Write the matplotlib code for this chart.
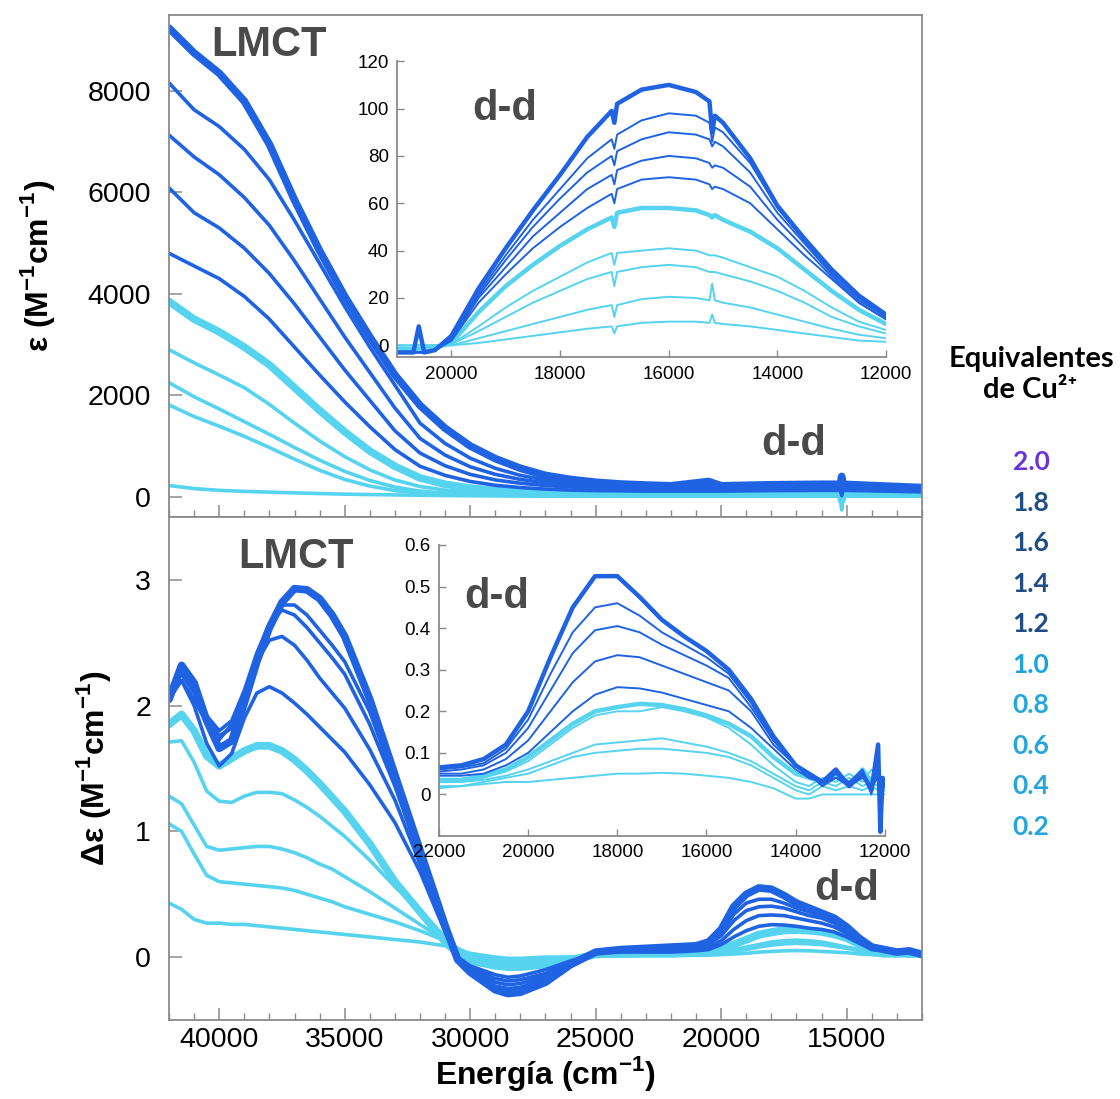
import numpy as np
import matplotlib.pyplot as plt
from matplotlib.ticker import MultipleLocator, FuncFormatter

plt.rcParams['font.family'] = ['Liberation Sans', 'DejaVu Sans']
plt.rcParams['mathtext.fontset'] = 'custom'
plt.rcParams['mathtext.rm'] = 'Liberation Sans'
plt.rcParams['mathtext.bf'] = 'Liberation Sans:bold'

# equivalents of Cu2+, same order as the curve lists below
equivalents = ['2.0', '1.8', '1.6', '1.4', '1.2', '1.0', '0.8', '0.6', '0.4', '0.2']

# --- absorption (epsilon), main panel ---
energy_abs = [42000, 41000, 40000, 39000, 38000, 37000, 36000, 35000, 34000, 33000,
              32000, 31000, 30000, 29000, 28000, 27000, 26000, 25000, 24000, 23000,
              22000, 20500, 20000, 18000, 16000, 15250, 15200, 15150, 14000, 12000]
eps_curves = [
    [9240, 8750, 8350, 7800, 6950, 5850, 4850, 3950, 3150, 2400, 1800, 1350, 1000, 750, 560, 420, 340, 285, 250, 230, 215, 300, 215, 235, 245, 245, 400, 245, 220, 180],
    [8160, 7630, 7300, 6850, 6250, 5450, 4600, 3750, 2950, 2200, 1450, 1050, 760, 560, 420, 330, 275, 240, 220, 210, 200, 200, 200, 215, 225, 225, 380, 225, 205, 165],
    [7130, 6700, 6350, 5900, 5350, 4650, 3900, 3150, 2450, 1750, 1150, 820, 590, 440, 340, 275, 235, 210, 195, 185, 180, 180, 180, 190, 200, 200, 340, 200, 180, 145],
    [6090, 5600, 5300, 4900, 4400, 3800, 3150, 2500, 1900, 1300, 860, 610, 440, 330, 265, 220, 190, 175, 165, 160, 155, 155, 155, 165, 170, 170, 60, 170, 155, 125],
    [4800, 4550, 4300, 3950, 3500, 2950, 2400, 1870, 1380, 930, 600, 420, 300, 225, 180, 150, 130, 120, 115, 110, 110, 110, 110, 120, 125, 125, 20, 125, 115, 95],
    [3850, 3500, 3250, 2950, 2600, 2150, 1700, 1280, 900, 600, 370, 245, 170, 120, 95, 80, 70, 65, 60, 60, 60, 60, 60, 65, 70, 70, -80, 70, 62, 50],
    [2900, 2640, 2400, 2150, 1820, 1450, 1100, 790, 530, 330, 200, 130, 90, 70, 60, 52, 48, 45, 42, 40, 40, 40, 40, 44, 48, 48, -150, 48, 42, 35],
    [2250, 1970, 1730, 1480, 1230, 970, 720, 500, 320, 190, 110, 70, 50, 40, 34, 30, 28, 26, 25, 25, 25, 25, 25, 28, 30, 30, -200, 30, 27, 22],
    [1810, 1580, 1390, 1190, 970, 740, 520, 340, 210, 120, 70, 48, 36, 30, 26, 23, 21, 20, 20, 20, 20, 20, 20, 22, 24, 24, -260, 24, 20, 15],
    [220, 160, 125, 105, 90, 75, 62, 50, 42, 35, 28, 22, 18, 15, 12, 10, 10, 10, 10, 10, 10, 10, 10, 10, 10, 10, -120, 10, 10, 10],
]

# --- absorption, d-d inset ---
energy_abs_dd = [21000, 20700, 20600, 20500, 20300, 20000, 19500, 19000, 18500, 18000,
                 17500, 17050, 17000, 16950, 16500, 16000, 15500, 15250, 15200, 15150,
                 15000, 14500, 14000, 13500, 13000, 12500, 12000]
eps_dd_curves = [
    [-3, -3, 8, -3, -2, 4, 24, 41, 57, 72, 88, 99, 94, 102, 108, 110, 107, 103, 90, 97, 94, 79, 59, 45, 32, 21, 13],
    [-3, -3, -3, -3, -2, 3, 22, 38, 53, 66, 79, 87, 83, 89, 95, 98, 97, 94, 86, 92, 90, 77, 58, 44, 31, 20, 12],
    [-3, -3, -3, -3, -2, 3, 21, 36, 50, 62, 73, 80, 76, 82, 87, 90, 89, 87, 84, 86, 84, 73, 56, 43, 30, 19, 12],
    [-3, -3, -3, -3, -2, 2, 20, 33, 46, 56, 66, 72, 68, 74, 78, 80, 79, 77, 75, 76, 75, 67, 53, 41, 29, 18, 11],
    [-3, -3, -3, -3, -2, 2, 18, 30, 41, 50, 58, 64, 60, 66, 70, 71, 70, 68, 66, 67, 66, 60, 49, 38, 28, 18, 11],
    [-2, -2, -2, -2, -1, 1, 14, 25, 34, 42, 49, 54, 50, 56, 58, 58, 57, 55, 54, 55, 53, 48, 41, 32, 23, 15, 9],
    [-1, -1, -1, -1, 0, 0.5, 8, 16, 23, 29, 35, 39, 34, 39, 40, 41, 40, 38, 38, 38, 37, 33, 29, 23, 16, 10, 6.5],
    [-1, -1, -1, -1, 0, 0.5, 6, 12, 18, 23, 28, 31, 25, 31, 33, 34, 33, 31, 31, 31, 30, 27, 23, 18, 12, 8, 5],
    [0, 0, 0, 0, 0, 0, 3, 6, 9, 12, 15, 17, 12, 17, 19.5, 20.5, 20, 19, 26, 19, 18, 16, 13, 10, 7, 4.5, 3],
    [0, 0, 0, 0, 0, 0, 1, 2.5, 4, 5.5, 7, 8, 5, 8, 9.5, 10, 10, 9.5, 13, 9.5, 9, 8, 6.5, 5, 3.5, 2, 1.5],
]

# --- circular dichroism (delta epsilon), main panel ---
energy_cd = [42000, 41500, 41000, 40500, 40000, 39500, 39000, 38500, 38000, 37500,
             37000, 36500, 36000, 35500, 35000, 34000, 33000, 32000, 31000, 30500,
             30000, 29000, 28500, 28000, 27000, 26000, 25000, 24000, 23000, 22000,
             21000, 20500, 20000, 19500, 19000, 18500, 18000, 17500, 17000, 16500,
             16000, 15500, 15000, 14500, 14000, 13500, 13000, 12500, 12000]
deps_curves = [
    [2.05, 2.32, 2.18, 1.88, 1.66, 1.72, 2.02, 2.35, 2.62, 2.82, 2.93, 2.92, 2.85, 2.72, 2.55,
     2.05, 1.45, 0.85, 0.25, -0.02, -0.12, -0.26, -0.29, -0.28, -0.2, -0.06, 0.04, 0.06, 0.07, 0.08, 0.09,
     0.12, 0.22, 0.4, 0.5, 0.55, 0.54, 0.49, 0.43, 0.39, 0.35, 0.31, 0.24, 0.15, 0.08, 0.06, 0.04, 0.05, 0.02],
    [2.1, 2.28, 2.12, 1.9, 1.76, 1.82, 2.08, 2.4, 2.65, 2.8, 2.8, 2.72, 2.6, 2.48, 2.35,
     1.95, 1.4, 0.82, 0.23, -0.02, -0.11, -0.23, -0.25, -0.24, -0.17, -0.05, 0.04, 0.06, 0.07, 0.07, 0.08,
     0.11, 0.19, 0.34, 0.43, 0.46, 0.46, 0.43, 0.39, 0.36, 0.33, 0.29, 0.22, 0.14, 0.08, 0.05, 0.04, 0.04, 0.02],
    [2.12, 2.25, 2.1, 1.92, 1.8, 1.88, 2.12, 2.42, 2.65, 2.76, 2.72, 2.62, 2.5, 2.38, 2.25,
     1.85, 1.36, 0.79, 0.22, -0.02, -0.1, -0.2, -0.22, -0.21, -0.15, -0.04, 0.04, 0.05, 0.06, 0.06, 0.07,
     0.1, 0.17, 0.29, 0.37, 0.4, 0.405, 0.39, 0.36, 0.33, 0.31, 0.27, 0.21, 0.13, 0.07, 0.05, 0.04, 0.04, 0.02],
    [2.05, 2.2, 2.05, 1.86, 1.73, 1.85, 2.1, 2.35, 2.52, 2.55, 2.48, 2.36, 2.22, 2.1, 1.98,
     1.65, 1.25, 0.74, 0.21, -0.01, -0.09, -0.17, -0.19, -0.18, -0.13, -0.04, 0.03, 0.05, 0.05, 0.05, 0.06,
     0.08, 0.13, 0.22, 0.29, 0.33, 0.335, 0.33, 0.31, 0.29, 0.27, 0.24, 0.19, 0.12, 0.07, 0.05, 0.04, 0.04, 0.02],
    [2.08, 2.2, 2.0, 1.7, 1.52, 1.62, 1.9, 2.1, 2.15, 2.1, 2.02, 1.93, 1.83, 1.73, 1.63,
     1.37, 1.07, 0.68, 0.2, 0.0, -0.07, -0.14, -0.16, -0.15, -0.1, -0.03, 0.03, 0.04, 0.04, 0.04, 0.05,
     0.06, 0.1, 0.16, 0.21, 0.245, 0.258, 0.255, 0.245, 0.23, 0.22, 0.2, 0.16, 0.11, 0.06, 0.05, 0.04, 0.03, 0.02],
    [1.85, 1.93, 1.8, 1.6, 1.52, 1.58, 1.64, 1.68, 1.68, 1.64, 1.57, 1.48, 1.38, 1.27, 1.16,
     0.9, 0.6, 0.36, 0.12, 0.03, -0.03, -0.07, -0.08, -0.08, -0.06, -0.02, 0.02, 0.03, 0.03, 0.03, 0.04,
     0.05, 0.07, 0.1, 0.14, 0.18, 0.2, 0.215, 0.215, 0.21, 0.2, 0.18, 0.15, 0.1, 0.06, 0.05, 0.04, 0.03, 0.03],
    [1.71, 1.72, 1.55, 1.32, 1.24, 1.23, 1.28, 1.31, 1.31, 1.3, 1.25, 1.19, 1.12, 1.04, 0.96,
     0.77, 0.56, 0.37, 0.16, 0.06, -0.01, -0.05, -0.06, -0.06, -0.05, -0.02, 0.01, 0.02, 0.02, 0.03, 0.03,
     0.04, 0.06, 0.09, 0.12, 0.16, 0.18, 0.195, 0.2, 0.2, 0.19, 0.17, 0.14, 0.1, 0.06, 0.04, 0.03, 0.03, 0.03],
    [1.28, 1.22, 1.05, 0.88, 0.85, 0.86, 0.87, 0.88, 0.88, 0.86, 0.83, 0.79, 0.74, 0.7, 0.64,
     0.52, 0.39, 0.26, 0.13, 0.06, 0.0, -0.03, -0.04, -0.04, -0.03, -0.01, 0.01, 0.015, 0.02, 0.02, 0.025,
     0.03, 0.04, 0.06, 0.08, 0.1, 0.12, 0.13, 0.135, 0.13, 0.12, 0.1, 0.08, 0.06, 0.04, 0.03, 0.02, 0.02, 0.02],
    [1.06, 1.0, 0.82, 0.65, 0.6, 0.59, 0.58, 0.57, 0.56, 0.55, 0.53, 0.5, 0.47, 0.44, 0.4,
     0.34, 0.28, 0.21, 0.13, 0.07, 0.02, -0.02, -0.02, -0.02, -0.01, 0.0, 0.01, 0.01, 0.015, 0.02, 0.02,
     0.025, 0.03, 0.05, 0.06, 0.08, 0.095, 0.105, 0.11, 0.105, 0.1, 0.085, 0.07, 0.05, 0.03, 0.02, 0.02, 0.01, 0.01],
    [0.43, 0.38, 0.3, 0.27, 0.27, 0.26, 0.26, 0.25, 0.24, 0.23, 0.22, 0.21, 0.2, 0.19, 0.18,
     0.16, 0.14, 0.12, 0.09, 0.06, 0.03, 0.0, -0.01, -0.01, 0.0, 0.0, 0.01, 0.01, 0.01, 0.01, 0.015,
     0.015, 0.02, 0.025, 0.03, 0.04, 0.045, 0.05, 0.052, 0.05, 0.045, 0.04, 0.035, 0.025, 0.02, 0.01, 0.01, 0.01, 0.01],
]

# --- circular dichroism, d-d inset ---
energy_cd_dd = [22000, 21500, 21000, 20500, 20000, 19500, 19000, 18500, 18000, 17500,
                17000, 16500, 16000, 15500, 15000, 14500, 14000, 13700, 13400, 13100,
                12800, 12500, 12300, 12150, 12100, 12050, 12000]
deps_dd_curves = [
    [0.065, 0.07, 0.085, 0.12, 0.2, 0.33, 0.45, 0.525, 0.525, 0.475, 0.42, 0.38, 0.345, 0.3, 0.23, 0.14, 0.07, 0.05, 0.03, 0.06, 0.02, 0.05, 0.01, 0.12, -0.09, 0.04, 0.02],
    [0.06, 0.065, 0.075, 0.11, 0.18, 0.29, 0.39, 0.45, 0.46, 0.43, 0.39, 0.36, 0.33, 0.29, 0.22, 0.13, 0.07, 0.05, 0.02, 0.05, 0.03, 0.06, 0.0, 0.08, -0.04, 0.03, 0.02],
    [0.055, 0.06, 0.07, 0.1, 0.16, 0.25, 0.34, 0.395, 0.405, 0.39, 0.36, 0.335, 0.31, 0.28, 0.21, 0.13, 0.07, 0.04, 0.03, 0.05, 0.02, 0.05, 0.02, 0.06, -0.02, 0.03, 0.02],
    [0.05, 0.05, 0.06, 0.085, 0.13, 0.2, 0.27, 0.32, 0.335, 0.33, 0.31, 0.29, 0.27, 0.25, 0.2, 0.12, 0.07, 0.05, 0.02, 0.04, 0.03, 0.05, 0.01, 0.05, 0.0, 0.03, 0.02],
    [0.045, 0.045, 0.05, 0.07, 0.1, 0.15, 0.2, 0.24, 0.258, 0.255, 0.245, 0.23, 0.215, 0.2, 0.16, 0.11, 0.06, 0.04, 0.03, 0.04, 0.02, 0.04, 0.02, 0.04, 0.01, 0.03, 0.02],
    [0.035, 0.035, 0.045, 0.06, 0.09, 0.13, 0.17, 0.2, 0.21, 0.218, 0.215, 0.205, 0.19, 0.17, 0.14, 0.09, 0.05, 0.04, 0.03, 0.05, 0.02, 0.06, 0.03, 0.05, 0.02, 0.03, 0.02],
    [0.03, 0.03, 0.04, 0.055, 0.08, 0.12, 0.16, 0.19, 0.2, 0.2, 0.21, 0.2, 0.185, 0.16, 0.12, 0.07, 0.03, 0.02, 0.04, 0.03, 0.05, 0.03, 0.06, 0.04, 0.03, 0.02, 0.02],
    [0.03, 0.03, 0.035, 0.045, 0.06, 0.08, 0.1, 0.12, 0.125, 0.13, 0.135, 0.125, 0.115, 0.1, 0.08, 0.05, 0.02, 0.01, 0.03, 0.02, 0.04, 0.02, 0.03, 0.02, 0.02, 0.02, 0.02],
    [0.02, 0.02, 0.03, 0.04, 0.05, 0.07, 0.09, 0.1, 0.105, 0.11, 0.11, 0.105, 0.1, 0.09, 0.07, 0.04, 0.01, 0.0, 0.02, 0.01, 0.02, 0.01, 0.02, 0.01, 0.01, 0.01, 0.01],
    [0.015, 0.02, 0.025, 0.03, 0.03, 0.035, 0.04, 0.045, 0.05, 0.05, 0.052, 0.05, 0.045, 0.04, 0.03, 0.015, -0.01, -0.01, 0.0, 0.0, 0.0, 0.0, 0.0, 0.0, 0.0, 0.0, 0.0],
]

legend_colors = ['#6a35d8', '#1f4e86', '#1f4e86', '#1f4e86', '#1f4e86',
                 '#1aa3e0', '#22a6dc', '#22a6dc', '#22a6dc', '#22a6dc']

DARK = '#1f63e2'
LIGHT = '#55d3ef'
SPINE = '#8a8a8a'


def style(eq, big):
    color = DARK if float(eq) >= 1.2 else LIGHT
    thick = eq in ('2.0', '1.0')
    if big:
        lw = 5.5 if thick else 2.6
    else:
        lw = 3.2 if thick else 1.4
    return color, lw


def draw(ax, energy, curves, big):
    # lightest first so the darker series sit on top
    for eq, vals in reversed(list(zip(equivalents, curves))):
        c, lw = style(eq, big)
        ax.plot(energy, vals, color=c, lw=lw, solid_capstyle='round', solid_joinstyle='round')


def frame(ax, spines=('left', 'bottom', 'right', 'top')):
    for name, sp in ax.spines.items():
        sp.set_visible(name in spines)
        sp.set_color(SPINE)
        sp.set_linewidth(1.3)


fig = plt.figure(figsize=(11.2, 10.99), dpi=100)

# main panels
ax1 = fig.add_axes([0.1509, 0.5296, 0.6723, 0.4568])
ax2 = fig.add_axes([0.1509, 0.0719, 0.6723, 0.4577])

draw(ax1, energy_abs, eps_curves, True)
draw(ax2, energy_cd, deps_curves, True)

for ax in (ax1, ax2):
    ax.set_xlim(42000, 12000)
    ax.xaxis.set_major_locator(MultipleLocator(5000))
    ax.xaxis.set_minor_locator(MultipleLocator(1000))
    ax.tick_params(axis='both', which='major', direction='in', length=9, width=1.1,
                   color=SPINE, labelsize=20.5, top=False, right=False)
    ax.tick_params(axis='y', pad=13)
    ax.tick_params(axis='x', which='minor', direction='in', length=5, width=1.0,
                   color=SPINE, top=False)
    frame(ax)

ax1.set_ylim(-400, 9500)
ax1.set_yticks([0, 2000, 4000, 6000, 8000])
ax1.tick_params(axis='x', labelbottom=False)

ax2.set_ylim(-0.5, 3.5)
ax2.set_yticks([0, 1, 2, 3])
ax2.set_xticks([40000, 35000, 30000, 25000, 20000, 15000])
ax2.tick_params(axis='x', pad=5)

ax1.set_ylabel(r'ε (M$^{\mathbf{-1}}$cm$^{\mathbf{-1}}$)', fontsize=23, fontweight='bold', labelpad=22)
ax2.set_ylabel(r'Δε (M$^{\mathbf{-1}}$cm$^{\mathbf{-1}}$)', fontsize=23, fontweight='bold', labelpad=16)
ax2.set_xlabel(r'Energía (cm$^{\mathbf{-1}}$)', fontsize=23, fontweight='bold', labelpad=1)

label_kw = dict(fontsize=30, fontweight='bold', color='#4a4a4a', ha='center', va='center')
ax1.text(0.133, 0.94, 'LMCT', transform=ax1.transAxes, **label_kw)
ax1.text(0.83, 0.145, 'd-d', transform=ax1.transAxes, **label_kw)
ax2.text(0.168, 0.92, 'LMCT', transform=ax2.transAxes, **label_kw)
ax2.text(0.90, 0.26, 'd-d', transform=ax2.transAxes, **label_kw)

# insets
ins1 = fig.add_axes([0.3545, 0.675, 0.4366, 0.2693])
ins2 = fig.add_axes([0.392, 0.2393, 0.398, 0.2648])

draw(ins1, energy_abs_dd, eps_dd_curves, False)
draw(ins2, energy_cd_dd, deps_dd_curves, False)

ins1.set_xlim(21000, 12000)
ins1.set_ylim(-5, 120)
ins1.set_xticks([20000, 18000, 16000, 14000, 12000])
ins1.set_yticks(range(0, 121, 20))

ins2.set_xlim(22000, 12000)
ins2.set_ylim(-0.1, 0.6)
ins2.set_xticks([22000, 20000, 18000, 16000, 14000, 12000])
ins2.set_yticks([0, 0.1, 0.2, 0.3, 0.4, 0.5, 0.6])
ins2.yaxis.set_major_formatter(FuncFormatter(lambda v, p: '0' if abs(v) < 1e-9 else f'{v:.1f}'))

for ins in (ins1, ins2):
    ins.set_facecolor('white')
    frame(ins, spines=('left', 'bottom'))
    ins.tick_params(axis='both', direction='in', length=5, width=1.0, color=SPINE,
                    labelsize=13.5, pad=6)

ins1.text(0.22, 0.84, 'd-d', transform=ins1.transAxes, **label_kw)
ins2.text(0.13, 0.82, 'd-d', transform=ins2.transAxes, **label_kw)

# equivalents key on the right
key_font = ['Lato', 'DejaVu Sans']
fig.text(0.9205, 0.673, 'Equivalentes', fontsize=21, fontweight='bold', family=key_font,
         ha='center', va='center')
fig.text(0.9200, 0.645, 'de Cu²⁺', fontsize=21, fontweight='bold', family=key_font,
         ha='center', va='center')
for i, (eq, col) in enumerate(zip(equivalents, legend_colors)):
    fig.text(0.9205, 0.5796 - i * 0.0369, eq, fontsize=19, fontweight='bold',
             family=key_font, color=col, ha='center', va='center')

fig.savefig('out.png', dpi=100, facecolor='white')
